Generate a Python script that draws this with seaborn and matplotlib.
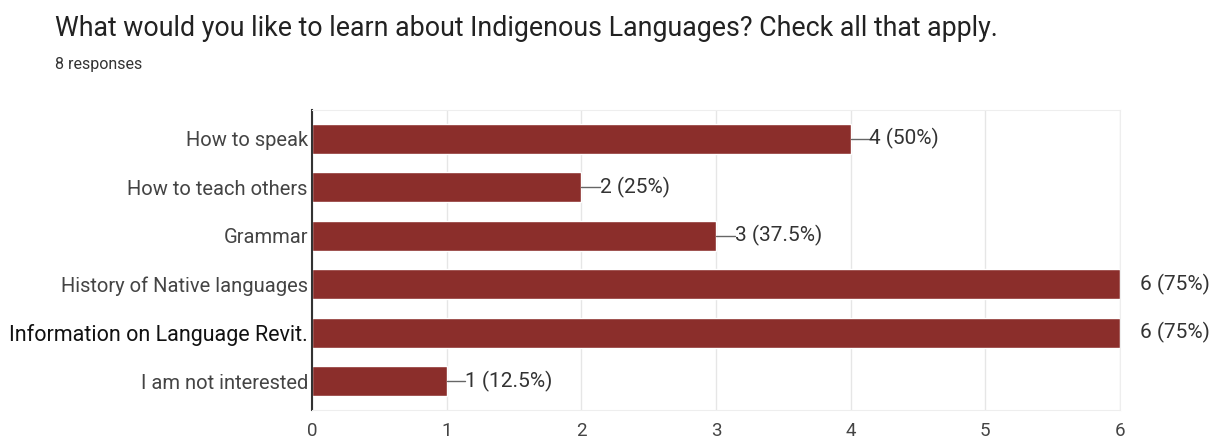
import matplotlib
matplotlib.use('Agg')
import matplotlib.pyplot as plt
import seaborn as sns
import pandas as pd

# Survey data
options = ['How to speak', 'How to teach others', 'Grammar',
           'History of Native languages', 'Information on Language Revit.',
           'I am not interested']
counts = [4, 2, 3, 6, 6, 1]
labels = ['4 (50%)', '2 (25%)', '3 (37.5%)', '6 (75%)', '6 (75%)', '1 (12.5%)']

df = pd.DataFrame({'option': options, 'count': counts})

sns.set_style('white')
plt.rcParams['font.family'] = ['Roboto', 'DejaVu Sans']

fig = plt.figure(figsize=(12.2, 4.43), dpi=100)
ax = fig.add_axes([0.2557, 0.0745, 0.6623, 0.6772])

sns.barplot(data=df, x='count', y='option', color='#8B2E2B', saturation=1,
            width=0.62, ax=ax)

ax.set_xlim(0, 6)
ax.set_xticks(range(7))
ax.set_xlabel('')
ax.set_ylabel('')
ax.grid(axis='x', color='#e6e6e6', linewidth=1)
ax.set_axisbelow(True)
for side in ['top', 'right', 'bottom']:
    ax.spines[side].set_color('#eeeeee')
ax.spines['left'].set_color('#333333')
ax.spines['left'].set_linewidth(1.5)
ax.tick_params(axis='x', colors='#444444', labelsize=13.5, length=0, pad=9)
ax.tick_params(axis='y', colors='#444444', labelsize=14.5, length=0, pad=3)
for t in ax.get_yticklabels():
    if t.get_text().startswith('Information'):
        t.set_color('#111111')
        t.set_fontsize(15.5)

# value labels with small leader lines
for i, (c, lab) in enumerate(zip(counts, labels)):
    if c < 6:
        ax.plot([c, c + 0.14], [i, i], color='#666666', lw=1, clip_on=False)
        ax.text(c + 0.14, i, lab, va='center', ha='left', fontsize=15, color='#333333')
    else:
        ax.text(c + 0.15, i, lab, va='center', ha='left', fontsize=15,
                color='#333333', clip_on=False)

fig.text(0.045, 0.935, 'What would you like to learn about Indigenous Languages? Check all that apply.',
         fontsize=19.3, color='#222222', va='center')
fig.text(0.045, 0.855, '8 responses', fontsize=11.5, color='#333333', va='center')

fig.savefig('out.png', dpi=100)
